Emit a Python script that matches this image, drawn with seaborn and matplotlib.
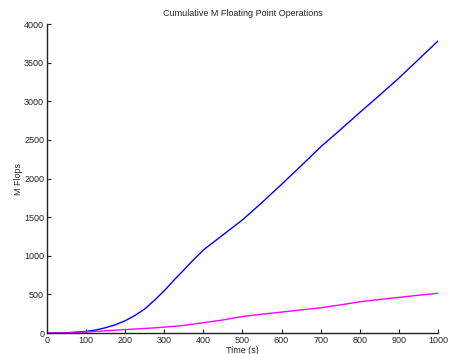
import numpy as np
import matplotlib
matplotlib.use("Agg")
import matplotlib.pyplot as plt
import seaborn as sns

# time axis (s) and cumulative M flops
time_s = [0, 50, 100, 125, 150, 175, 200, 225, 250, 275, 300, 325, 350, 375,
          400, 450, 500, 550, 600, 650, 700, 750, 800, 850, 900, 950, 1000]
blue_mflops = [0, 4, 22, 40, 70, 108, 160, 228, 311, 425, 548, 685, 816, 950,
               1075, 1270, 1465, 1690, 1925, 2165, 2410, 2630, 2855, 3075, 3300, 3540, 3780]
magenta_mflops = [0, 3, 14, 22, 30, 38, 46, 53, 60, 68, 77, 88, 100, 117,
                  135, 170, 215, 245, 272, 300, 328, 365, 405, 435, 462, 490, 515]

x_ticks = [0, 100, 200, 300, 400, 500, 600, 700, 800, 900, 1000]
y_ticks = [0, 500, 1000, 1500, 2000, 2500, 3000, 3500, 4000]

sns.set_style("ticks")
plt.rcParams["font.family"] = ["Liberation Sans", "DejaVu Sans"]
plt.rcParams["xtick.direction"] = "in"
plt.rcParams["ytick.direction"] = "in"

fig = plt.figure(figsize=(4.51, 3.54), dpi=100)
ax = fig.add_axes([0.104, 0.059, 0.867, 0.873])

sns.lineplot(x=time_s, y=blue_mflops, ax=ax, color="#0000ff", linewidth=1)
sns.lineplot(x=time_s, y=magenta_mflops, ax=ax, color="#ff00ff", linewidth=1)

ax.set_xlim(0, 1000)
ax.set_ylim(0, 4000)
ax.set_xticks(x_ticks)
ax.set_yticks(y_ticks)
ax.tick_params(labelsize=6.5, length=3, width=0.8, pad=2)
for s in ["left", "bottom"]:
    ax.spines[s].set_linewidth(1)
    ax.spines[s].set_color("#222222")
sns.despine(ax=ax)

ax.set_title("Cumulative M Floating Point Operations", fontsize=6.5, pad=6)
ax.set_xlabel("Time (s)", fontsize=6.5, labelpad=1)
ax.set_ylabel("M Flops", fontsize=6.5, labelpad=1)

fig.savefig("out.png", dpi=100)
